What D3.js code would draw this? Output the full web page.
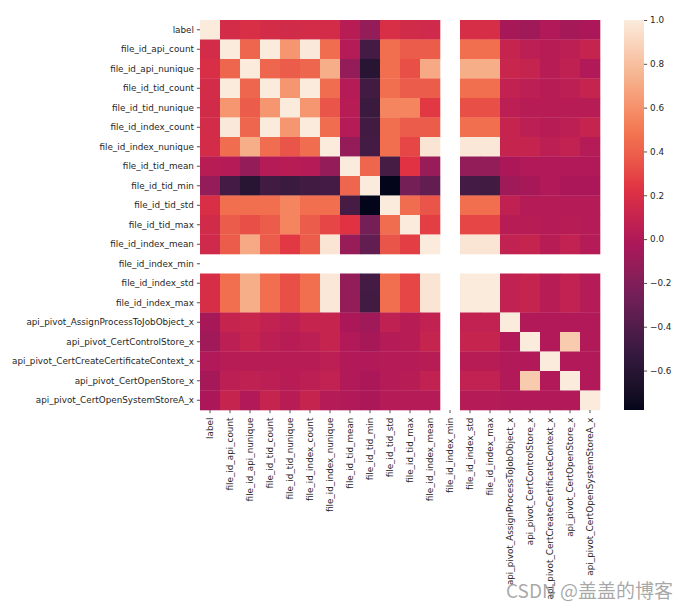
<!DOCTYPE html>
<meta charset="utf-8">
<style>
  body { margin: 0; background: #fff; }
  text { font-family: "DejaVu Sans", sans-serif; }
</style>
<svg width="692" height="608"></svg>

<script src="https://d3js.org/d3.v7.min.js"></script>
<script>
// feature names (rows and columns of the correlation matrix)
var features = [
  "label", "file_id_api_count", "file_id_api_nunique", "file_id_tid_count",
  "file_id_tid_nunique", "file_id_index_count", "file_id_index_nunique",
  "file_id_tid_mean", "file_id_tid_min", "file_id_tid_std", "file_id_tid_max",
  "file_id_index_mean", "file_id_index_min", "file_id_index_std", "file_id_index_max",
  "api_pivot_AssignProcessToJobObject_x", "api_pivot_CertControlStore_x",
  "api_pivot_CertCreateCertificateContext_x", "api_pivot_CertOpenStore_x",
  "api_pivot_CertOpenSystemStoreA_x"
]

// correlation values, null = NaN (file_id_index_min is constant)
var N = null
var corr = [
  [ 1.00, 0.17, 0.20, 0.17, 0.16, 0.17, 0.17, 0.03,-0.12, 0.20, 0.16, 0.15, N, 0.19, 0.19,-0.04,-0.07, 0.00,-0.05,-0.02],
  [ 0.17, 1.00, 0.42, 1.00, 0.62, 0.99, 0.45, 0.02,-0.46, 0.46, 0.38, 0.38, N, 0.46, 0.46, 0.10, 0.05, 0.03, 0.05, 0.10],
  [ 0.20, 0.42, 1.00, 0.42, 0.38, 0.42, 0.72,-0.12,-0.60, 0.46, 0.33, 0.70, N, 0.72, 0.72, 0.12, 0.10, 0.03, 0.07, 0.00],
  [ 0.17, 1.00, 0.42, 1.00, 0.62, 1.00, 0.45, 0.02,-0.47, 0.46, 0.38, 0.38, N, 0.46, 0.46, 0.08, 0.05, 0.03, 0.05, 0.10],
  [ 0.16, 0.62, 0.38, 0.62, 1.00, 0.62, 0.35, 0.03,-0.50, 0.55, 0.55, 0.25, N, 0.33, 0.33, 0.05, 0.03, 0.03, 0.03, 0.03],
  [ 0.17, 0.99, 0.42, 1.00, 0.62, 1.00, 0.45, 0.02,-0.47, 0.46, 0.38, 0.38, N, 0.46, 0.46, 0.10, 0.05, 0.03, 0.05, 0.10],
  [ 0.17, 0.45, 0.72, 0.45, 0.35, 0.45, 1.00,-0.12,-0.46, 0.46, 0.30, 0.97, N, 0.98, 0.98, 0.10, 0.10, 0.05, 0.08, 0.02],
  [ 0.03, 0.02,-0.12, 0.02, 0.03, 0.02,-0.12, 1.00, 0.42,-0.45, 0.23,-0.11, N,-0.13,-0.13,-0.02, 0.00, 0.00, 0.00, 0.00],
  [-0.12,-0.46,-0.60,-0.47,-0.50,-0.47,-0.46, 0.42, 1.00,-0.78,-0.25,-0.33, N,-0.46,-0.47,-0.07,-0.04, 0.00,-0.02,-0.02],
  [ 0.20, 0.46, 0.46, 0.46, 0.55, 0.46, 0.46,-0.45,-0.78, 1.00, 0.45, 0.35, N, 0.46, 0.46, 0.07, 0.02, 0.02, 0.02, 0.02],
  [ 0.16, 0.38, 0.33, 0.38, 0.55, 0.38, 0.30, 0.23,-0.25, 0.45, 1.00, 0.27, N, 0.30, 0.30, 0.03, 0.03, 0.02, 0.03, 0.02],
  [ 0.15, 0.38, 0.70, 0.38, 0.25, 0.38, 0.97,-0.11,-0.33, 0.35, 0.27, 1.00, N, 0.97, 0.97, 0.08, 0.10, 0.03, 0.08, 0.02],
  [ N, N, N, N, N, N, N, N, N, N, N, N, N, N, N, N, N, N, N, N],
  [ 0.19, 0.46, 0.72, 0.46, 0.33, 0.46, 0.98,-0.13,-0.46, 0.46, 0.30, 0.97, N, 1.00, 1.00, 0.08, 0.10, 0.03, 0.08, 0.02],
  [ 0.19, 0.46, 0.72, 0.46, 0.33, 0.46, 0.98,-0.13,-0.47, 0.46, 0.30, 0.97, N, 1.00, 1.00, 0.08, 0.10, 0.03, 0.08, 0.02],
  [-0.04, 0.10, 0.12, 0.08, 0.05, 0.10, 0.10,-0.02,-0.07, 0.07, 0.03, 0.08, N, 0.08, 0.08, 1.00, 0.00, 0.00, 0.00, 0.00],
  [-0.07, 0.05, 0.10, 0.05, 0.03, 0.05, 0.10, 0.00,-0.04, 0.02, 0.03, 0.10, N, 0.10, 0.10, 0.00, 1.00, 0.00, 0.85, 0.00],
  [ 0.00, 0.03, 0.03, 0.03, 0.03, 0.03, 0.05, 0.00, 0.00, 0.02, 0.02, 0.03, N, 0.03, 0.03, 0.00, 0.00, 1.00, 0.00, 0.00],
  [-0.05, 0.05, 0.07, 0.05, 0.03, 0.05, 0.08, 0.00,-0.02, 0.02, 0.03, 0.08, N, 0.08, 0.08, 0.00, 0.85, 0.00, 1.00, 0.00],
  [-0.02, 0.10, 0.00, 0.10, 0.03, 0.10, 0.02, 0.00,-0.02, 0.02, 0.02, 0.02, N, 0.02, 0.02, 0.00, 0.00, 0.00, 0.00, 1.00]
]

var cbarTicks = [1.0, 0.8, 0.6, 0.4, 0.2, 0.0, -0.2, -0.4, -0.6]

// seaborn "rocket" colormap stops
var rocket = ["#03051a", "#35193e", "#701f57", "#ad1759", "#e13342", "#f37651", "#f6b48f", "#faebdd"]

var svg = d3.select("svg")

var margin = { left: 200, top: 20 }
var width = 400, height = 390
var fontSize = 8.8, tickLen = 3.1, tickPad = 3

var vmin = d3.min(corr.flat().filter(function (v) { return v !== null }))
var vmax = 1

var x = d3.scaleBand().domain(features).range([margin.left, margin.left + width])
var y = d3.scaleBand().domain(features).range([margin.top, margin.top + height])

var color = d3.scaleLinear()
  .domain(d3.range(rocket.length).map(function (i) { return vmin + (vmax - vmin) * i / (rocket.length - 1) }))
  .range(rocket)
  .interpolate(d3.interpolateLab)
  .clamp(true)

// cells
var cells = []
corr.forEach(function (row, i) {
  row.forEach(function (v, j) {
    if (v !== null) cells.push({ r: features[i], c: features[j], v: v })
  })
})

svg.append("g").selectAll("rect")
  .data(cells)
  .join("rect")
  .attr("x", function (d) { return x(d.c) })
  .attr("y", function (d) { return y(d.r) })
  .attr("width", x.bandwidth() + 0.3)
  .attr("height", y.bandwidth() + 0.3)
  .attr("fill", function (d) { return color(d.v) })

function styleAxis(g) {
  g.select(".domain").remove()
  g.selectAll("line").attr("stroke", "#262626").attr("stroke-width", 0.8)
  g.selectAll("text").attr("font-size", fontSize).attr("fill", "#262626")
    .style("font-family", "DejaVu Sans")
}

// axes
var yAxis = svg.append("g")
  .attr("transform", "translate(" + margin.left + ",0)")
  .call(d3.axisLeft(y).tickSize(tickLen).tickPadding(tickPad))
styleAxis(yAxis)

var xAxis = svg.append("g")
  .attr("transform", "translate(0," + (margin.top + height) + ")")
  .call(d3.axisBottom(x).tickSize(tickLen).tickPadding(tickPad))
styleAxis(xAxis)
xAxis.selectAll("text")
  .attr("text-anchor", "end")
  .attr("transform", "rotate(-90)")
  .attr("x", -(tickLen + tickPad + 1.5))
  .attr("y", 0)
  .attr("dy", "0.32em")

// colorbar
var cb = { x: 624, w: 20 }
var cy = d3.scaleLinear().domain([vmin, vmax]).range([margin.top + height, margin.top])

var grad = svg.append("defs").append("linearGradient")
  .attr("id", "cbar").attr("x1", 0).attr("y1", 1).attr("x2", 0).attr("y2", 0)
d3.range(0, 1.0001, 0.02).forEach(function (t) {
  grad.append("stop").attr("offset", t).attr("stop-color", color(vmin + (vmax - vmin) * t))
})
svg.append("rect")
  .attr("x", cb.x).attr("y", margin.top)
  .attr("width", cb.w).attr("height", height)
  .attr("fill", "url(#cbar)")

var cAxis = svg.append("g")
  .attr("transform", "translate(" + (cb.x + cb.w) + ",0)")
  .call(d3.axisRight(cy).tickValues(cbarTicks).tickFormat(d3.format(".1f")).tickSize(tickLen).tickPadding(tickPad))
styleAxis(cAxis)

// watermark
svg.append("text")
  .attr("x", 506).attr("y", 598)
  .attr("font-size", 19)
  .attr("fill", "#8c8c8c")
  .attr("fill-opacity", 0.75)
  .style("font-family", "'Noto Sans CJK SC', sans-serif")
  .text("CSDN @盖盖的博客")
</script>
